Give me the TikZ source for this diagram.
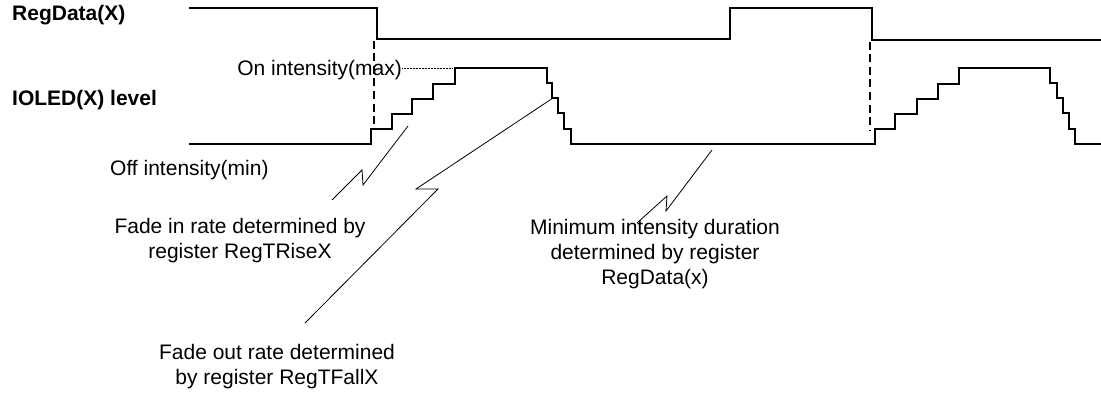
\documentclass[tikz,border=0pt]{standalone}
\usepackage{fontspec}
\setmainfont{Liberation Sans}

\begin{document}
\begin{tikzpicture}[x=1pt, y=-1pt, font=\fontsize{21}{25}\selectfont,
    wave/.style={line width=1.4pt},
    syncdash/.style={line width=2.6pt, dash pattern=on 8pt off 4.5pt},
    lead/.style={line width=0.8pt},
    lbl/.style={inner sep=0pt, align=center}]
    \useasboundingbox (0,0) rectangle (1101,396);
    % signals
    \draw [wave] (189,8) -- (377,8) -- (377,39) -- (730,39) -- (730,8) -- (872,8) -- (872,40) -- (1101,40);
    \draw [wave] (189,144) -- (371,144) |- (392,129) |- (412,114) |- (433,99) |- (455,84) |- (547,68)
        |- (552,83) |- (558,98) |- (564,113) |- (571,129) |- (875,144)
        |- (895,129) |- (917,114) |- (938,99) |- (959,84) |- (1050,68)
        |- (1057,83) |- (1063,98) |- (1069,113) |- (1075,129) |- (1101,144);
    \draw [syncdash] (374,41) -- (374,129);
    \draw [syncdash] (870,42) -- (870,130);
    % labels
    \node [lbl, anchor=west, font=\fontsize{21}{25}\selectfont\bfseries] (regdata) at (12,15) {RegData(X)};
    \node [lbl, anchor=west, font=\fontsize{21}{25}\selectfont\bfseries] (ioled) at (12,100) {IOLED(X) level};
    \node [lbl, anchor=west] (offmin) at (110,170) {Off intensity(min)};
    \node [lbl, anchor=east] (onmax) at (402,70) {On intensity(max)};
    \coordinate (ontop) at (453,68);
    \draw [line width=0.5pt, densely dotted] (onmax.east |- ontop) -- (ontop);
    \node [lbl] (fadein) at (240,241) {Fade in rate determined by\\register RegTRiseX};
    \node [lbl] (fadeout) at (277,367) {Fade out rate determined\\by register RegTFallX};
    \node [lbl] (mindur) at (655,254) {Minimum intensity duration\\determined by register\\RegData(x)};
    % leaders
    \coordinate (risetip) at (408,126);
    \coordinate (riseend) at (332,200);
    \coordinate (falltip) at (553,98);
    \coordinate (fallend) at (305,323);
    \coordinate (lowtip) at (712,150);
    \coordinate (lowend) at (637,223);
    \draw [lead] (risetip) -- (363,185) -- (362,170) -- (riseend);
    \draw [lead] (falltip) -- (416,189) -- (438,189) -- (fallend);
    \draw [lead] (lowtip) -- (666,211) -- (667,196) -- (lowend);
\end{tikzpicture}
\end{document}
